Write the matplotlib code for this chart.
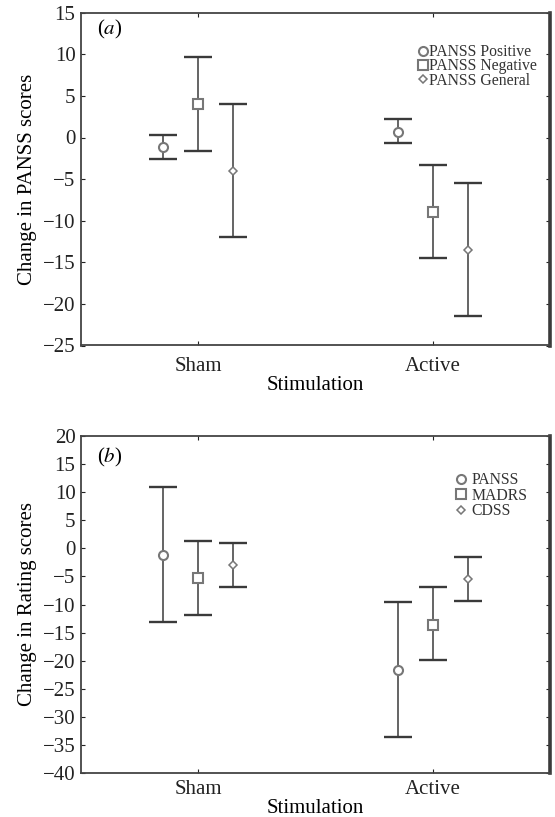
import numpy as np
import matplotlib
matplotlib.use("Agg")
import matplotlib.pyplot as plt

plt.rcParams['font.family'] = ['Liberation Serif', 'DejaVu Serif']
plt.rcParams['mathtext.fontset'] = 'stix'

groups = ["Sham", "Active"]

# panel (a): PANSS subscales, mean with lower / upper error bounds
labels_a = ["PANSS Positive", "PANSS Negative", "PANSS General"]
mean_a = [[-1.2, 0.7], [4.0, -9.0], [-4.0, -13.5]]
low_a = [[-2.6, -0.7], [-1.6, -14.5], [-12.0, -21.4]]
high_a = [[0.3, 2.2], [9.7, -3.3], [4.0, -5.5]]

# panel (b): rating scales
labels_b = ["PANSS", "MADRS", "CDSS"]
mean_b = [[-1.2, -21.7], [-5.3, -13.6], [-3.0, -5.4]]
low_b = [[-13.1, -33.6], [-11.8, -19.8], [-6.8, -9.3]]
high_b = [[10.9, -9.6], [1.3, -6.8], [1.0, -1.5]]

markers = [("o", 6.5, 1.5), ("s", 6.5, 1.5), ("D", 4, 1.1)]
gpos = np.array([0.25, 0.75])
offs = [-0.075, 0.0, 0.075]
ecol = "#3a3a3a"
mcol = "#777777"

fig = plt.figure(figsize=(5.55, 8.17), dpi=100)
W, H = 555, 817


def panel(rect, labels, mean, low, high, ylim, yticks, ylab, tag, tag_y,
          leg_xy, leg_pad, leg_space, xpad, lpad):
    l, t, r, b = rect
    ax = fig.add_axes([l / W, 1 - b / H, (r - l) / W, (b - t) / H])
    handles = []
    for i in range(3):
        m = np.array(mean[i])
        lo = m - np.array(low[i])
        hi = np.array(high[i]) - m
        ax.errorbar(gpos + offs[i], m, yerr=[lo, hi], fmt="none",
                    ecolor=ecol, elinewidth=1.1, capsize=10.2, capthick=1.7)
        mk, ms, mw = markers[i]
        h, = ax.plot(gpos + offs[i], m, linestyle="none", marker=mk,
                     markersize=ms, markerfacecolor="white",
                     markeredgecolor=mcol, markeredgewidth=mw)
        handles.append(h)
    ax.set_xlim(0, 1)
    ax.set_ylim(*ylim)
    ax.set_yticks(yticks)
    ax.set_yticklabels([str(v).replace("-", "\u2212") for v in yticks])
    ax.set_xticks(gpos)
    ax.set_xticklabels(groups)
    ax.tick_params(direction="in", length=3, width=0.8, labelsize=15,
                   top=True, right=True, pad=4, colors="#222222")
    ax.tick_params(axis="x", pad=xpad)
    for s in ax.spines.values():
        s.set_color("#444444")
        s.set_linewidth(1.3)
    ax.spines["right"].set_linewidth(2.6)
    ax.spines["right"].set_color("#3a3a3a")
    ax.set_ylabel(ylab, fontsize=15, labelpad=4)
    ax.set_xlabel("Stimulation", fontsize=15, labelpad=lpad)
    ax.text(0.034, tag_y, tag, transform=ax.transAxes, fontsize=15,
            va="center", ha="left")
    # legend anchored by its upper left corner in figure pixels
    lx, ly = leg_xy
    ax.legend(handles, labels, loc="upper left",
              bbox_to_anchor=(lx / W, 1 - ly / H),
              bbox_transform=fig.transFigure,
              frameon=False, fontsize=11.3, handlelength=0.6,
              handletextpad=leg_pad, labelspacing=leg_space, borderpad=0,
              borderaxespad=0, labelcolor="#333333")
    return ax


panel((81, 12.7, 550, 345.5), labels_a, mean_a, low_a, high_a, (-25, 15),
      list(range(-25, 16, 5)), "Change in PANSS scores", "($\\it{a}$)",
      0.949, (418, 44), 0.1, -0.1, 8, 0.5)
panel((81, 436, 550, 773), labels_b, mean_b, low_b, high_b, (-40, 20),
      list(range(-40, 21, 5)), "Change in Rating scores", "($\\it{b}$)",
      0.935, (456, 472), 0.4, -0.03, 5, 0)

fig.savefig("out.png", dpi=100)
